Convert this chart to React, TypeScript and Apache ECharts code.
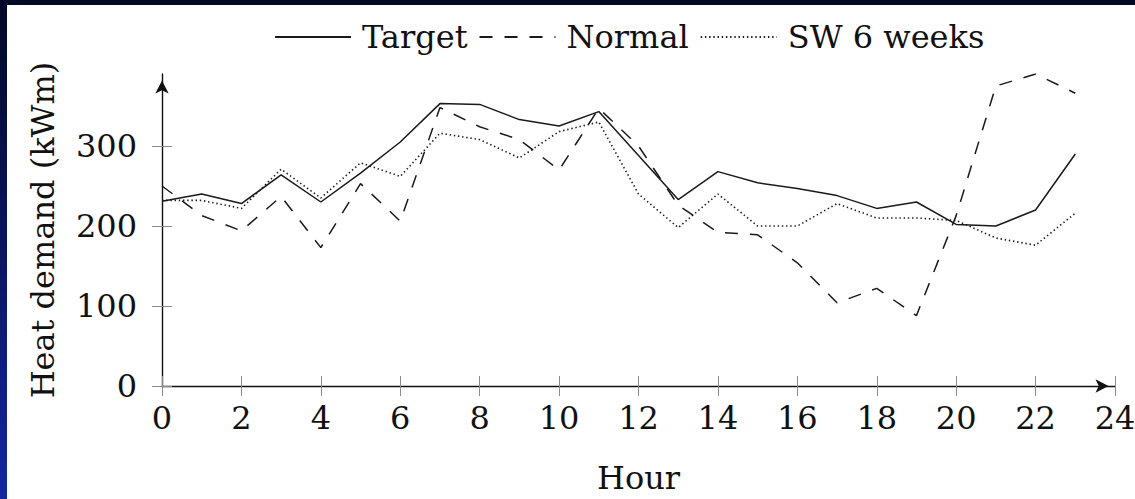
import React, { useEffect, useRef } from "react";
import * as echarts from "echarts";

// ---- data ----
const hours = [0, 1, 2, 3, 4, 5, 6, 7, 8, 9, 10, 11, 12, 13, 14, 15, 16, 17, 18, 19, 20, 21, 22, 23];
const target = [231, 240, 228, 264, 230, 266, 305, 353, 352, 333, 325, 343, 288, 233, 268, 254, 247, 238, 222, 230, 202, 200, 220, 290];
const normal = [250, 213, 194, 237, 173, 253, 206, 348, 324, 308, 270, 347, 300, 226, 192, 189, 154, 104, 122, 88, 213, 375, 390, 366];
const sw6 = [232, 232, 222, 271, 235, 279, 262, 316, 308, 285, 318, 330, 240, 198, 240, 200, 200, 228, 210, 210, 207, 185, 176, 216];
const seriesNames = ["Target", "Normal", "SW 6 weeks"];
const xMin = 0;
const xMax = 24;
const xStep = 2;
const yTicks = [0, 100, 200, 300];
const xName = "Hour";
const yName = "Heat demand (kWm)";

const FONT = "DejaVu Serif";
const INK = "#111111";
const TICK = "#8a8a8a";
const FS = 32;

export default function App() {
  const ref = useRef<HTMLDivElement>(null);

  useEffect(() => {
    document.body.style.margin = "0";
    if (!ref.current) return;
    const chart = echarts.init(ref.current, null, { renderer: "svg" });
    const yMax = Math.max(...target, ...normal, ...sw6);
    const pairs = (vals: number[]) => hours.map((h, i) => [h, vals[i]]);
    const arrowW = 10;
    const arrowH = 13;

    const lineCommon = {
      type: "line" as const,
      xAxisIndex: 0,
      yAxisIndex: 0,
      symbol: "none",
      showSymbol: false,
      silent: true,
    };

    chart.setOption({
      animation: false,
      backgroundColor: "#ffffff",
      grid: {
        left: 155,
        right: 20,
        top: 69,
        bottom: 113,
        containLabel: false,
        outerBoundsMode: "none",
      },
      legend: {
        show: true,
        left: 262,
        top: 11,
        itemWidth: 76,
        itemHeight: 14,
        itemGap: 11,
        data: seriesNames,
        itemStyle: { opacity: 0, color: "transparent", borderColor: "transparent", borderWidth: 0 },
        textStyle: {
          fontFamily: FONT,
          fontSize: FS,
          color: INK,
          padding: [0, 0, 0, 6],
        },
      },
      xAxis: [
        {
          type: "value",
          position: "bottom",
          min: xMin,
          max: xMax,
          interval: xStep,
          name: xName,
          nameLocation: "middle",
          nameGap: 75,
          nameTextStyle: { fontFamily: FONT, fontSize: FS, color: INK, lineHeight: 34 },
          axisLine: {
            show: true,
            onZero: false,
            symbol: ["none", "arrow"],
            symbolSize: [arrowW, arrowH],
            symbolOffset: [0, -arrowH / 2],
            lineStyle: { color: INK, width: 1.4 },
          },
          axisTick: { show: true, inside: false, length: 10, lineStyle: { color: TICK, width: 1 } },
          axisLabel: { show: true, margin: 16, fontFamily: FONT, fontSize: FS, color: INK },
          splitLine: { show: false },
        },
        {
          type: "value",
          position: "bottom",
          min: xMin,
          max: xMax,
          interval: xStep,
          axisLine: { show: false, onZero: false },
          axisTick: { show: true, inside: true, length: 10, lineStyle: { color: TICK, width: 1 } },
          axisLabel: { show: false },
          splitLine: { show: false },
        },
      ],
      yAxis: [
        {
          type: "value",
          position: "left",
          offset: 0,
          min: 0,
          max: yMax,
          name: yName,
          nameLocation: "middle",
          nameGap: 103,
          nameTextStyle: { fontFamily: FONT, fontSize: FS, color: INK },
          axisLine: {
            show: true,
            onZero: false,
            symbol: ["none", "arrow"],
            symbolSize: [arrowW, arrowH],
            symbolOffset: [0, -arrowH / 2],
            lineStyle: { color: INK, width: 1.4 },
          },
          axisTick: {
            show: true,
            inside: false,
            length: 10,
            customValues: yTicks,
            lineStyle: { color: TICK, width: 1 },
          },
          axisLabel: {
            show: true,
            margin: 25,
            customValues: yTicks,
            fontFamily: FONT,
            fontSize: FS,
            color: INK,
          },
          splitLine: { show: false },
        },
        {
          type: "value",
          position: "left",
          offset: 0,
          min: 0,
          max: yMax,
          axisLine: { show: false, onZero: false },
          axisTick: {
            show: true,
            inside: true,
            length: 10,
            customValues: yTicks,
            lineStyle: { color: TICK, width: 1 },
          },
          axisLabel: { show: false },
          splitLine: { show: false },
        },
      ],
      series: [
        {
          ...lineCommon,
          name: seriesNames[0],
          data: pairs(target),
          lineStyle: { color: "#1a1a1a", width: 1.5, type: "solid" },
          itemStyle: { color: "#1a1a1a" },
        },
        {
          ...lineCommon,
          name: seriesNames[1],
          data: pairs(normal),
          lineStyle: { color: "#1a1a1a", width: 1.5, type: [13, 12] },
          itemStyle: { color: "#1a1a1a" },
        },
        {
          ...lineCommon,
          name: seriesNames[2],
          data: pairs(sw6),
          lineStyle: { color: "#1a1a1a", width: 1.6, type: [1.4, 2.8] },
          itemStyle: { color: "#1a1a1a" },
        },
      ],
    });

    return () => chart.dispose();
  }, []);

  return (
    <div
      style={{
        position: "fixed",
        left: 0,
        top: 0,
        width: 1135,
        height: 499,
        background: "linear-gradient(to bottom, #020826 0%, #0a1560 50%, #1428a0 100%)",
        overflow: "hidden",
      }}
    >
      <div
        ref={ref}
        style={{ position: "absolute", left: 7, top: 5, width: 1128, height: 494, background: "#ffffff" }}
      />
    </div>
  );
}
